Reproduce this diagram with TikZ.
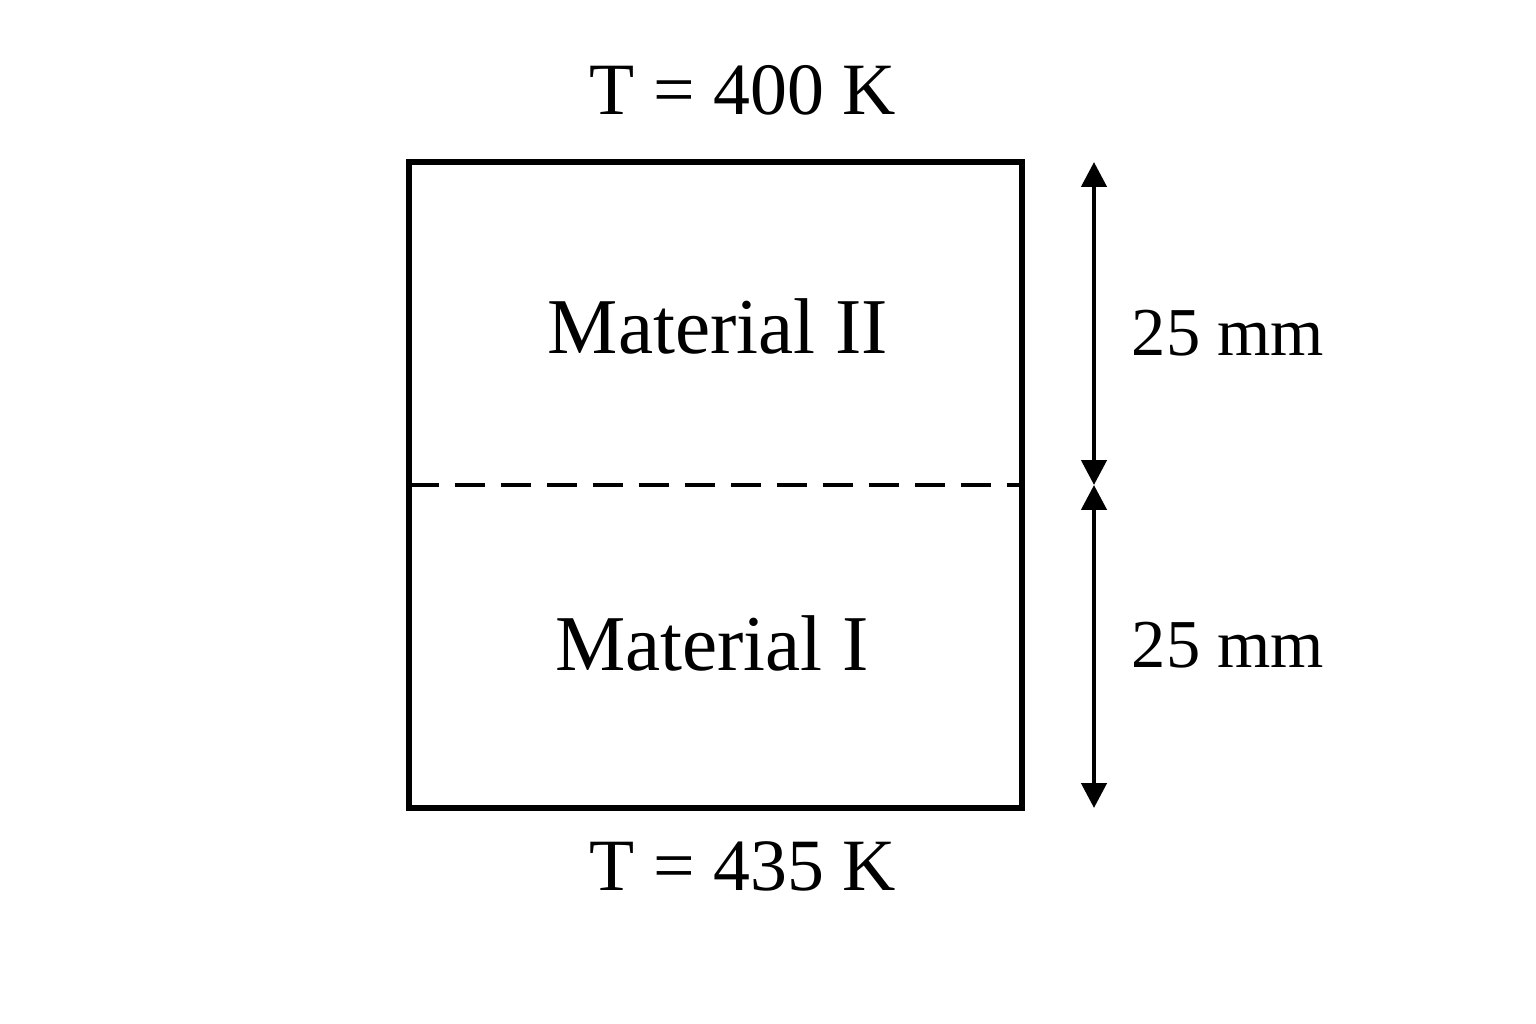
\documentclass[tikz,border=0pt]{standalone}
\usepackage{fontspec}
\setmainfont{Liberation Serif}
\usetikzlibrary{arrows.meta}
\begin{document}
\begin{tikzpicture}[x=0.02cm,y=-0.02cm,
  wall/.style={line width=3.2pt,line join=miter},
  iface/.style={line width=2.6pt,dash pattern=on 0.6cm off 0.32cm},
  dim/.style={line width=2.6pt,{Triangle[length=0.5cm,width=0.5cm]}-{Triangle[length=0.5cm,width=0.5cm]}},
  lbl/.style={anchor=base,inner sep=0pt}]
\useasboundingbox (0,0) rectangle (1536,1024);
\fill[white] (0,0) rectangle (1536,1024);
\coordinate (tl) at (409,162);
\coordinate (br) at (1022,808);
\coordinate (ml) at (409,485);
\coordinate (mr) at (1022,485);
\draw[wall] (tl) rectangle (br);
\draw[iface] (ml) -- (mr);
\coordinate (a1) at (1094,162);
\coordinate (a2) at (1094,485);
\coordinate (a3) at (1094,808);
\draw[dim] (a1) -- (a2);
\draw[dim] (a2) -- (a3);
\node[lbl,font=\fontsize{42}{50}\selectfont] (ttop) at (743,115) {T = 400 K};
\node[lbl,font=\fontsize{42}{50}\selectfont] (tbot) at (743,890) {T = 435 K};
\node[lbl,font=\fontsize{45}{54}\selectfont] (m2) at (718,353) {Material II};
\node[lbl,font=\fontsize{45}{54}\selectfont] (m1) at (712,670) {Material I};
\node[lbl,font=\fontsize{39}{47}\selectfont] (d2) at (1228,355) {25 mm};
\node[lbl,font=\fontsize{39}{47}\selectfont] (d1) at (1228,667) {25 mm};
\end{tikzpicture}
\end{document}
